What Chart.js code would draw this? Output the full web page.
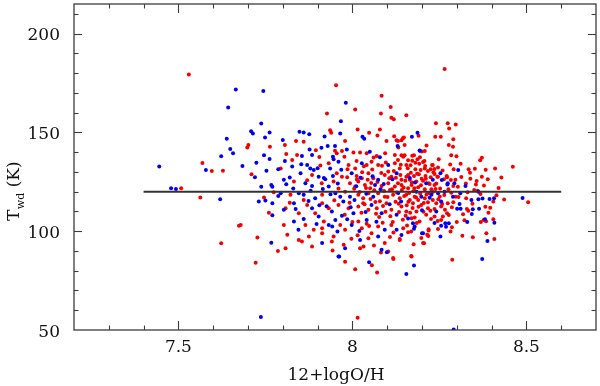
<!DOCTYPE html>
<html>
<head>
<meta charset="utf-8">
<script src="https://cdn.jsdelivr.net/npm/chart.js@4.4.1/dist/chart.umd.min.js"></script>
<style>
html,body{margin:0;padding:0;background:#fff;}
canvas{display:block;}
</style>
</head>
<body>
<canvas id="c" width="600" height="386"></canvas>
<script>
// ---- axis definitions ----
const xRange = [7.2, 8.7];
const yRange = [50, 215];
const xTicks = [7.5, 8, 8.5];
const xTickLabels = ['7.5', '8', '8.5'];
const xMinorStep = 0.1;
const yTicks = [50, 100, 150, 200];
const yTickLabels = ['50', '100', '150', '200'];
const yMinorStep = 10;
const xTitle = '12+logO/H';
const yTitleMain = 'T';
const yTitleSub = 'wd';
const yTitleRest = ' (K)';

// ---- reference line ----
const refLineX = [7.4, 8.6];
const refLineY = [120, 120];

// ---- red sample ----
const redPoints = [
[7.53,179.3],[8.265,182.1],[8.155,158.7],[8.24,154.7],[8.274,154.7],[8.297,154],[8.278,152],
[7.569,134.5],[7.596,130.5],[7.628,130.6],[7.508,121.7],[7.563,117],[7.623,93.9],[7.674,102.8],
[7.722,84.1],[7.786,90],[7.943,90.2],[7.979,84.6],[8.008,80.8],[8.056,82.8],[8.071,79.1],[8.082,89.2],[8.118,85.9],[8.015,56.2],
[8.169,87.5],[8.287,85.5],
[8.19,148.3],[8.145,147],[8.238,147.8],[8.254,147.8],[8.29,146.6],[8.131,145.6],[8.213,143.4],[8.277,143.6],[8.289,142.7],[8.208,140.6],
[8.284,138.5],[8.299,137.9],[8.141,138.5],[8.15,138.4],[8.177,138.5],[8.248,136.4],[8.372,137.2],[8.367,135.9],[8.311,134.1],[8.207,135.5],
[8.172,135.7],[8.187,136.4],[8.16,135.9],[8.131,136],[8.231,133.5],[8.246,132.3],[8.461,132.6],[8.41,131.8],[8.383,131.1],[8.352,131.6],
[8.334,131.3],[8.291,131.3],[8.372,127.6],[8.389,126.3],[8.272,127.3],[8.283,125.9],[8.339,126.6],[8.357,125.4],[8.326,124.2],[8.225,131.3],
[8.236,128.9],[8.246,127.6],[8.29,122.9],[8.303,122.5],[8.35,120.9],[8.36,120.5],[8.414,118.2],[8.436,116],[8.505,114.6],[8.405,115],
[8.327,116.7],[8.382,112.4],[8.396,111.9],[8.329,111.3],[8.333,110.4],[8.322,105.6],[8.369,104.7],[8.377,105.7],[8.384,105.1],[8.405,106.1],
[8.385,99],[8.346,97],[8.408,96.1],[8.297,117.5],[8.274,114.1],[8.286,112.1],[8.272,109.1],[8.26,107.4],[8.255,105.7],[8.286,102],
[8.282,99.8],[8.218,97.6],[8.206,93.9],[8.219,100.3],[8.169,99.8],[8.16,99.5],[8.136,96],
[8.172,138.2],[8.2,140.4],[8.194,137.4],[8.181,134.7],[8.203,135],[8.209,133],[8.229,133.5],[8.236,131.5],[8.217,130.5],[8.196,131],
[8.181,131.3],[8.168,129.6],[8.16,128.5],[8.177,128],[8.191,128.8],[8.21,128],[8.225,127.3],[8.244,127.6],[8.263,126.3],[8.165,126],
[8.184,125.1],[8.203,125.6],[8.219,124.3],[8.236,123.4],[8.17,123.4],[8.16,121.7],[8.189,122.2],[8.208,121.2],[8.227,121.2],[8.179,117.5],
[8.165,115.8],[8.189,115.8],[8.208,116.7],[8.231,115.8],[8.174,114.2],[8.198,113.3],[8.217,111.6],[8.241,114.2],[8.255,112.5],[8.184,110],
[8.212,108.3],[8.236,107.4],[8.17,106.6],[8.193,104.9],[8.219,101],[8.215,98.2],[8.203,94],[8.17,87.2],
[7.81,139.1],[7.841,138.6],[7.827,136],[7.955,139.4],[7.977,137.7],[7.97,140.6],[8.003,139.8],[8.022,139.8],[8.041,139.4],[8.07,138.1],
[8.094,139.4],[8.122,138.6],[8.146,137.7],[7.908,133.2],[7.932,134.4],[7.989,133.5],[8.008,131.8],[8.041,133.5],[8.055,135.2],[8.074,133.5],
[8.122,134.4],[8.136,131.8],[8.155,133.5],[7.794,131.8],[7.884,128.5],[7.955,129.3],[7.97,127.6],[8.012,128],[8.027,126.8],[8.046,129.3],
[8.06,126.8],[8.093,128.5],[8.112,127.6],[8.141,126],[8.155,127.6],[7.832,125.1],[7.912,124.3],[7.946,125.1],[7.993,124.3],[8.017,125.1],
[8.008,122.6],[8.036,123.4],[8.051,121.7],[8.084,122.9],[8.103,124.3],[8.122,122.6],[8.141,123.4],[7.822,118.4],[7.913,118.4],[7.979,120],
[8.017,118.4],[8.031,116.7],[8.046,119.2],[8.074,119.2],[8.093,117.5],[8.117,118.4],[8.136,116.7],[8.155,118.4],[7.808,111.6],[7.86,115.8],
[7.87,113.3],[7.913,114.2],[7.932,111.6],[7.96,113.3],[7.989,111.6],[8.017,112.5],[8.031,114.2],[8.046,110.8],[8.07,111.6],[8.098,114.2],
[8.112,110.8],[8.141,112.5],[8.155,110],[7.846,109.1],[7.803,103.2],[7.865,103.2],[7.889,100.7],[7.913,101.5],[7.965,103.2],[7.979,100.7],
[8.017,104.9],[8.027,101.5],[8.055,99],[8.074,102.4],[8.112,103.2],[8.146,101.5],[7.813,98.2],[7.875,97.3],[7.913,99],[7.946,97.3],
[7.846,95.6],[7.855,94.8],[7.941,94.8],[7.975,93.1],[8.032,92.3],[8.046,96.5],[8.093,94],[8.136,95.6],[7.808,91.4],[7.884,92.3],
[8.022,91.4],[8.103,89.7],[8.117,86.4],
[7.953,173.9],[8.084,168.5],[7.927,159.6],[8.008,161.6],[8.082,159.6],[8.11,162.9],[8.112,157.4],[8.119,156.7],[7.936,151.1],[7.939,149.8],
[7.979,145.6],[8.015,151.5],[8.048,149.8],[8.079,151.5],[8.072,148.5],[8.098,145.6],[8.12,148.1],[8.141,146.1],[8.148,147.4],[7.698,142.4],
[7.701,143.6],[7.763,142.7],[7.806,143.6],[7.838,145.6],[7.86,145.3],[7.895,141],[7.95,140.7],[8.127,146.1],[8.132,142.4],[8.15,143.6],
[7.71,128.8],[7.746,117],[7.76,109.4],[7.679,103.2],[7.727,96.8],[7.774,119.7],
[8.005,121.5],[8.013,126.2],[8.021,119.8],[8.028,129.9],[8.035,113.6],[8.039,121.9],[8.044,126.1],[8.052,116.3],[8.057,131.2],[8.063,120.7],
[8.068,108.9],[8.072,124.9],[8.079,115.2],[8.083,129.4],[8.088,112.7],[8.091,120.4],[8.096,134.8],[8.101,117.3],[8.106,126.8],[8.109,107.6],
[8.114,121.3],[8.119,130.5],[8.124,114.9],[8.128,119.6],[8.131,124.3],[8.134,109.7],[8.138,128.4],[8.142,120.9],[8.145,105.8],[8.149,117.8],
[8.152,125.6],[8.156,113.1],[8.159,131.9],[8.163,119.3],[8.166,109.4],[8.171,124.7],[8.175,120.2],[8.179,106.9],[8.183,117.1],[8.186,129.1],
[8.19,112.4],[8.195,119.1],[8.199,126.5],[8.204,109.9],[8.208,131.7],[8.213,118.6],[8.217,114.6],[8.222,123.9],[8.226,106.2],[8.231,119.9],
[8.236,111.2],[8.241,124.1],[8.247,116.2],[8.252,121.6],[8.258,113.8],[8.264,118.3],[8.271,127.9],[8.277,108.2],[8.284,119.5],[8.29,114.7],
[7.992,114.4],[7.985,127.3],[7.978,108.3],[8.0,104.7],[8.015,97.9],[8.048,102.6],[8.087,104.3],[8.118,99.4],[8.157,102.9],[8.198,96.6],
[8.012,135.6],[8.026,109.3],[8.033,132.9],[8.041,103.8],[8.054,124.4],[8.061,137.3],[8.066,114.8],[8.077,107.2],[8.085,133.1],[8.095,109.8],
[8.103,130.2],[8.108,120.9],[8.116,104.6],[8.125,127.1],[8.133,113.9],[8.139,133.6],[8.147,122.1],[8.153,107.8],[8.161,114.9],[8.167,133.4],
[8.173,111.7],[8.178,121.8],[8.185,104.2],[8.192,134.2],[8.197,123.3],[8.205,114.3],[8.211,126.6],[8.219,119.4],[8.224,110.3],[8.233,129.8],
[8.239,121.4],[8.245,105.2],[8.251,117.6],[8.259,130.7],[8.266,110.9],[8.276,121.3],[8.281,133.8],[8.296,126.1],[8.305,117.3],[8.313,127.4],
[8.318,108.6],[8.331,119.7],[8.338,129.6],[8.345,113.9],[8.355,123.6],[8.368,118.8],[8.378,123.1],[8.391,109.3],[8.42,121.9],[8.428,127.2],
[7.96,121.6],[7.948,115.7],[7.986,131.4],[7.918,104.9],[7.905,137.6],[7.87,125.8],[7.893,109.1],[7.82,114.4],[7.997,96.2],[8.062,92.8],
[8.108,97.1],[8.176,93.4],[8.246,101.1],[8.3,104.6],[8.316,97.7]
];

// ---- blue sample ----
const bluePoints = [
[7.665,171.7],[7.643,162.6],[7.639,146.8],[7.649,141.6],[7.657,139.4],[7.623,138],[7.445,132.8],[7.579,131],[7.479,121.7],[7.493,121.4],[7.62,116.2],
[7.962,87.2],[8.048,84.3],[8.099,89.4],[7.737,56.6],
[8.177,82.6],[8.155,78.4],[8.373,85.9],[8.291,50.2],
[8.187,149.8],[8.171,147.8],[8.194,140.7],[8.304,131],[8.253,129.3],[8.231,126],[8.257,125.9],[8.273,123.7],[8.325,122.9],[8.362,120],
[8.489,116.8],[8.394,116.3],[8.407,116.7],[8.374,116.5],[8.342,115.8],[8.362,116.2],[8.364,111.4],[8.346,111.1],[8.311,111.4],[8.343,108.7],
[8.381,106.1],[8.408,104.3],[8.388,95.1],[8.308,113.8],[8.301,111.4],[8.255,102.8],[8.267,104],[8.277,104],[8.269,102.3],[8.253,97.3],
[8.2,99],[8.141,98.1],[8.177,101.2],
[8.193,140.8],[8.274,124.3],[8.293,124.3],[8.212,124.3],[8.184,120],[8.198,117.5],[8.227,118.4],[8.246,119.2],[8.255,115],[8.265,120],
[8.289,117.5],[8.174,104],[8.179,102.4],[8.203,99],[8.241,110],
[7.884,138.6],[7.855,138.1],[7.806,135.5],[7.946,136.4],[7.944,137.7],[8.079,137.4],[7.87,133.5],[7.879,131.8],[7.889,131],[7.936,131.8],
[8.027,134.4],[8.103,133.5],[7.827,132.7],[7.851,129.3],[7.903,127.6],[7.922,126.3],[7.998,129.3],[8.074,126],[8.127,129.3],[7.803,126],
[7.865,124.3],[7.884,122.9],[7.932,122.6],[8.065,123.4],[7.794,119.2],[7.846,119.2],[7.86,118.4],[7.893,116.7],[7.951,119.2],[7.965,117.5],
[7.993,117.5],[8.06,117.5],[7.803,110.8],[7.832,114.2],[7.884,111.6],[7.941,110],[7.974,115],[8.003,109.1],[8.055,113.3],[8.084,109.1],
[8.127,108.3],[7.903,107.4],[7.832,104.9],[7.932,103.2],[7.951,105.7],[7.998,103.2],[8.041,105.7],[8.093,100.7],[8.127,100.7],[7.913,94],
[8.022,95.6],[8.074,97.3],[7.979,91.4],[8.084,90.6],[7.96,87.2],
[7.744,171],[7.981,165],[7.967,155.7],[7.738,154.5],[7.709,150.6],[7.714,149.5],[7.749,147.4],[7.762,150],[7.848,150.3],[7.86,150],
[7.876,149.1],[7.965,149.5],[8.029,147.8],[8.034,146.8],[7.877,141.4],[7.911,142.2],[7.929,143.1],[7.95,143.1],[7.984,141.4],[8.13,143.1],
[7.684,133],[7.724,134.6],[7.746,138.5],[7.762,136.5],[7.753,130.6],[7.787,131.3],[7.738,122.5],[7.767,123.4],[7.77,122.5],[7.731,115],
[7.75,115.5],[7.77,114.1],[7.767,94.2],[7.787,117.8],
[7.88,120.5],[7.905,113.2],[7.918,126.9],[7.937,118.7],[7.958,124.2],[7.97,107.8],[7.995,112.1],[8.011,122.7],[8.038,109.7],[8.058,127.8],
[8.081,121.2],[8.107,113.6],[8.132,119.4],[8.16,106.4],[8.18,124.6],[8.222,116.9],[7.86,106.2],[7.83,121.6],[7.9,131.9],[7.96,135.2],
[7.942,102.4],[8.02,100.1],[7.82,127.2],[7.845,100.8],
[7.81,123.8],[7.837,111.2],[7.853,133.9],[7.874,115.3],[7.897,103.6],[7.915,121.4],[7.926,112.6],[7.944,127.9],[7.957,99.8],[7.968,131.1],
[7.985,106.1],[8.006,115.8],[8.023,127.1],[8.04,118.9],[8.069,104.8],[8.09,123.9],[8.115,126.3],[8.14,115.1],[8.165,126.9],[8.2,110.6],
[8.236,104.1],[8.31,119.2],[8.33,104.6],[7.77,108.1],[7.72,127.3],[7.8,146.2],[7.92,147.9],[8.05,140.2]
];

const FONT = '"DejaVu Serif", "Liberation Serif", serif';

const framePlugin = {
  id: 'pgframe',
  afterDraw(chart) {
    const ctx = chart.ctx;
    const a = chart.chartArea;
    const xs = chart.scales.x, ys = chart.scales.y;
    ctx.save();
    ctx.strokeStyle = '#3c3c3c';
    ctx.lineWidth = 1.3;
    ctx.strokeRect(a.left, a.top, a.right - a.left, a.bottom - a.top);
    ctx.lineWidth = 1.1;
    const seg = (x1, y1, x2, y2) => { ctx.beginPath(); ctx.moveTo(x1, y1); ctx.lineTo(x2, y2); ctx.stroke(); };
    // x ticks
    const nx = Math.round((xRange[1] - xRange[0]) / xMinorStep);
    for (let i = 1; i < nx; i++) {
      const v = xRange[0] + i * xMinorStep;
      const major = xTicks.some(t => Math.abs(t - v) < 1e-6);
      const L = major ? 9 : 4.5;
      const px = Math.round(xs.getPixelForValue(v)) + 0.5;
      seg(px, a.bottom, px, a.bottom - L);
      seg(px, a.top, px, a.top + L);
    }
    // y ticks
    const ny = Math.round((yRange[1] - yRange[0]) / yMinorStep);
    for (let i = 1; i <= ny; i++) {
      const v = yRange[0] + i * yMinorStep;
      if (v >= yRange[1]) break;
      const major = yTicks.some(t => Math.abs(t - v) < 1e-6);
      const L = major ? 8 : 4.5;
      const py = Math.round(ys.getPixelForValue(v)) + 0.5;
      seg(a.left, py, a.left + L, py);
      seg(a.right, py, a.right - L, py);
    }
    // tick labels
    ctx.fillStyle = '#111';
    ctx.font = '17px ' + FONT;
    ctx.textAlign = 'center';
    ctx.textBaseline = 'alphabetic';
    xTicks.forEach((t, i) => ctx.fillText(xTickLabels[i], xs.getPixelForValue(t), a.bottom + 22));
    ctx.textAlign = 'right';
    yTicks.forEach((t, i) => ctx.fillText(yTickLabels[i], a.left - 14, ys.getPixelForValue(t) + 6.5));
    // x title
    ctx.textAlign = 'center';
    ctx.fillText(xTitle, (a.left + a.right) / 2 + 1, 380);
    // y title (rotated, with subscript)
    ctx.translate(19, 221);
    ctx.rotate(-Math.PI / 2);
    ctx.textAlign = 'left';
    ctx.font = '17px ' + FONT;
    ctx.fillText(yTitleMain, 0, 0);
    let w = ctx.measureText(yTitleMain).width;
    ctx.font = '11px ' + FONT;
    ctx.fillText(yTitleSub, w + 0.5, 5);
    w += ctx.measureText(yTitleSub).width + 0.5;
    ctx.font = '17px ' + FONT;
    ctx.fillText(yTitleRest, w, 0);
    ctx.restore();
  }
};

const toXY = arr => arr.map(p => ({ x: p[0], y: p[1] }));

new Chart(document.getElementById('c'), {
  type: 'scatter',
  data: {
    datasets: [
      {
        type: 'line',
        data: refLineX.map((x, i) => ({ x: x, y: refLineY[i] })),
        borderColor: '#333333',
        borderWidth: 2,
        pointRadius: 0,
        fill: false,
        tension: 0
      },
      {
        data: toXY(bluePoints),
        backgroundColor: 'rgb(0,0,240)',
        borderWidth: 0,
        pointRadius: 2
      },
      {
        data: toXY(redPoints),
        backgroundColor: 'rgb(245,0,0)',
        borderWidth: 0,
        pointRadius: 2
      }
    ]
  },
  options: {
    responsive: false,
    animation: false,
    layout: { padding: { left: 74, right: 4, top: 3, bottom: 56 } },
    scales: {
      x: { type: 'linear', min: xRange[0], max: xRange[1], display: false },
      y: { type: 'linear', min: yRange[0], max: yRange[1], display: false }
    },
    plugins: { legend: { display: false }, tooltip: { enabled: false } }
  },
  plugins: [framePlugin]
});
</script>
</body>
</html>
